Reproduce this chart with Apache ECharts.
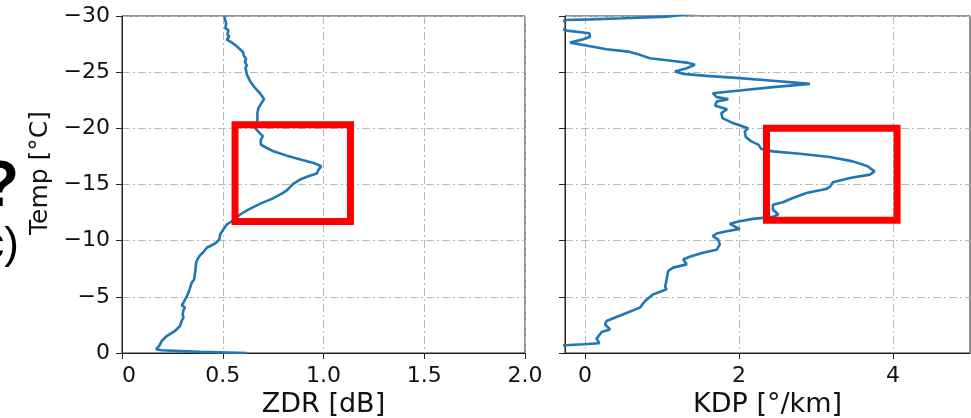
<!DOCTYPE html>
<html>
<head>
<meta charset="utf-8">
<script src="https://cdn.jsdelivr.net/npm/echarts@6.0.0/dist/echarts.min.js"></script>
<style>
  html, body { margin: 0; padding: 0; background: #fff; }
  #chart { width: 971px; height: 418px; }
</style>
</head>
<body>
<div id="chart"></div>
<script>
// temperature levels (y) and ZDR values (x), top of profile first
const zdrTemp = [-30, -29.35, -28.9, -28.76, -28.3, -28.2, -27.9, -27.7, -27.3, -26.8,
  -26.4, -26.2, -25.9, -25.6, -25.4, -24.76, -24.2, -23.6, -23.1, -22.6,
  -22.25, -21.8, -21.36, -20.76, -20.0, -19.6, -19.3, -19.0, -18.55, -18.25,
  -17.95, -17.57, -17.15, -16.86, -16.62, -16.32, -15.97, -15.73, -15.44, -15.08,
  -14.48, -14.19, -13.72, -13.6, -13.3, -12.77, -12.33, -11.73, -11.44, -11.0,
  -10.55, -10.1, -9.75, -9.37, -8.93, -8.69, -8.33, -8.04, -7.3, -6.55,
  -6.26, -5.37, -4.93, -4.48, -4.25, -4.04, -3.83, -3.45, -3.15, -2.85,
  -2.4, -1.96, -1.51, -1.07, -0.63, -0.34, -0.25, -0.1, 0];
const zdrValues = [0.507, 0.517, 0.513, 0.528, 0.523, 0.533, 0.52, 0.54, 0.57, 0.60,
  0.606, 0.616, 0.61, 0.62, 0.613, 0.62, 0.636, 0.66, 0.686, 0.705,
  0.692, 0.677, 0.672, 0.672, 0.662, 0.682, 0.699, 0.689, 0.689, 0.719,
  0.752, 0.818, 0.90, 0.959, 0.989, 0.975, 0.967, 0.925, 0.884, 0.851,
  0.818, 0.793, 0.744, 0.735, 0.686, 0.627, 0.586, 0.545, 0.52, 0.503,
  0.487, 0.483, 0.462, 0.421, 0.401, 0.387, 0.374, 0.368, 0.364, 0.358,
  0.346, 0.33, 0.318, 0.305, 0.296, 0.313, 0.305, 0.301, 0.305, 0.296,
  0.288, 0.263, 0.222, 0.197, 0.185, 0.169, 0.197, 0.387, 0.62];

// temperature levels (y) and KDP values (x)
const kdpTemp = [-30.3, -29.94, -29.8, -29.7, -29.64, -29.2, -28.7, -28.46, -28.16, -27.93,
  -27.63, -27.42, -27.04, -26.83, -26.54, -26.24, -26.0, -25.85, -25.65, -25.35,
  -25.05, -24.85, -24.67, -24.47, -24.23, -23.96, -23.67, -23.37, -23.13, -22.98,
  -22.78, -22.6, -22.39, -22.0, -21.7, -21.36, -20.91, -20.47, -20.0, -19.73,
  -19.23, -18.84, -18.55, -18.16, -17.95, -17.74, -17.45, -17.06, -16.62, -16.17,
  -15.88, -15.58, -15.2, -14.79, -14.6, -14.25, -13.8, -13.42, -13.2, -12.77,
  -12.33, -12.12, -11.94, -11.73, -11.5, -11.05, -10.84, -10.64, -10.4, -10.1,
  -9.66, -9.2, -8.93, -8.57, -8.33, -7.89, -7.6, -7.3, -6.55, -5.9,
  -5.67, -5.22, -4.63, -4.04, -3.45, -2.85, -2.56, -2.1, -1.87, -1.28,
  -0.87, -0.78, -0.69, -0.6];
const kdpValues = [1.5, 1.06, 0.5, 0.065, -0.237, -0.45, -0.237, 0.056, 0.065, -0.022,
  -0.195, -0.022, 0.28, 0.56, 0.713, 0.843, 1.146, 1.32, 1.427, 1.32,
  1.167, 1.275, 1.578, 2.01, 2.44, 2.92, 2.44, 2.01, 1.66, 1.64,
  1.71, 1.86, 1.71, 1.69, 1.846, 1.77, 1.786, 1.92, 2.118, 2.075,
  2.088, 2.16, 2.25, 2.29, 2.44, 2.79, 3.18, 3.48, 3.67, 3.76,
  3.70, 3.44, 3.22, 3.18, 3.13, 2.875, 2.70, 2.57, 2.44, 2.44,
  2.51, 2.44, 2.18, 2.01, 1.88, 2.01, 1.84, 1.71, 1.66, 1.73,
  1.75, 1.71, 1.53, 1.36, 1.275, 1.32, 1.145, 1.08, 1.06, 1.04,
  1.06, 0.886, 0.78, 0.713, 0.497, 0.28, 0.26, 0.324, 0.217, 0.15,
  0.186, -0.02, -0.26, -0.5];

// red highlight boxes: [x0, x1] and [T top, T bottom]
const zdrBoxX = [0.561, 1.134];
const zdrBoxT = [-20.32, -11.7];
const kdpBoxX = [2.357, 4.053];
const kdpBoxT = [-20.0, -11.82];

// tick labels
const tempTicks = [-30, -25, -20, -15, -10, -5, 0];
const zdrTicks = [0, 0.5, 1.0, 1.5, 2.0];
const kdpTicks = [0, 2, 4];

const FONT = "DejaVu Sans";
const BLUE = "#1f77b4";

function pairs(xs, ys) {
  return xs.map((x, i) => [x, ys[i]]);
}
function box(xr, tr) {
  return [[xr[0], tr[0]], [xr[1], tr[0]], [xr[1], tr[1]], [xr[0], tr[1]], [xr[0], tr[0]]];
}
function minus(v) {
  return v < 0 ? "\u2212" + Math.abs(v) : String(v);
}

const gridLine = {
  show: true,
  lineStyle: { color: "#b8b8b8", width: 1, type: [8, 3, 2, 3] }
};
const spine = { show: true, onZero: false, lineStyle: { color: "#222", width: 1 } };
const tick = { show: true, inside: false, length: 6, lineStyle: { color: "#222", width: 1 } };

let chart = echarts.init(document.getElementById("chart"), null, { renderer: "canvas" });

chart.setOption({
  animation: false,
  backgroundColor: "#fff",
  grid: [
    { left: 122, top: 16, width: 403, height: 337, show: true, borderColor: "#222", borderWidth: 1, outerBoundsMode: "none" },
    { left: 565, top: 16, width: 405, height: 337, show: true, borderColor: "#222", borderWidth: 1, outerBoundsMode: "none" }
  ],
  xAxis: [
    {
      type: "value", gridIndex: 0, min: 0, max: 2, interval: 0.5,
      name: "ZDR [dB]", nameLocation: "middle", nameGap: 38,
      nameTextStyle: { fontFamily: FONT, fontSize: 27, color: "#111" },
      axisLine: spine, axisTick: tick, splitLine: gridLine,
      axisLabel: {
        fontFamily: FONT, fontSize: 22, color: "#111", margin: 12,
        alignMinLabel: "left",
        customValues: zdrTicks,
        formatter: v => (v === 0 ? "0" : v.toFixed(1))
      }
    },
    {
      type: "value", gridIndex: 1, min: -0.26, max: 5,
      name: "KDP [°/km]", nameLocation: "middle", nameGap: 38,
      nameTextStyle: { fontFamily: FONT, fontSize: 27, color: "#111" },
      axisLine: spine,
      axisTick: Object.assign({}, tick, { customValues: kdpTicks }),
      splitLine: gridLine,
      axisLabel: {
        fontFamily: FONT, fontSize: 22, color: "#111", margin: 12,
        customValues: kdpTicks,
        showMinLabel: true, showMaxLabel: true
      }
    }
  ],
  yAxis: [
    {
      type: "value", gridIndex: 0, min: -30, max: 0, interval: 5, inverse: true,
      axisLine: spine, axisTick: tick, splitLine: gridLine,
      axisLabel: {
        fontFamily: FONT, fontSize: 22, color: "#111", margin: 12,
        customValues: tempTicks, formatter: minus
      }
    },
    {
      type: "value", gridIndex: 1, min: -30, max: 0, interval: 5, inverse: true,
      axisLine: spine, axisTick: tick, splitLine: gridLine,
      axisLabel: { show: false }
    }
  ],
  series: [
    {
      type: "line", xAxisIndex: 0, yAxisIndex: 0,
      data: pairs(zdrValues, zdrTemp),
      showSymbol: false, clip: true,
      lineStyle: { color: BLUE, width: 2.6 }
    },
    {
      type: "line", xAxisIndex: 1, yAxisIndex: 1,
      data: pairs(kdpValues, kdpTemp),
      showSymbol: false, clip: true,
      lineStyle: { color: BLUE, width: 2.6 }
    },
    {
      // 红框
      type: "line", xAxisIndex: 0, yAxisIndex: 0, z: 5,
      data: box(zdrBoxX, zdrBoxT),
      showSymbol: false, clip: false,
      lineStyle: { color: "#ff0000", width: 7, join: "miter", cap: "square" }
    },
    {
      type: "line", xAxisIndex: 1, yAxisIndex: 1, z: 5,
      data: box(kdpBoxX, kdpBoxT),
      showSymbol: false, clip: false,
      lineStyle: { color: "#ff0000", width: 7, join: "miter", cap: "square" }
    }
  ],
  graphic: [
    {
      // y axis title, sits a bit above the middle in the original
      type: "text", x: 40, y: 173, rotation: Math.PI / 2,
      style: {
        text: "Temp [°C]", fontFamily: FONT, fontSize: 25,
        fill: "#111", align: "center", verticalAlign: "middle"
      }
    },
    // leftovers of the cropped figure at the left edge
    {
      type: "text", x: 19, y: 188,
      style: {
        text: "?", fontFamily: "Liberation Sans", fontWeight: "bold", fontSize: 64,
        fill: "#000", align: "right", verticalAlign: "middle"
      }
    },
    {
      type: "text", x: 19, y: 246,
      style: {
        text: "c)", fontFamily: "Liberation Sans", fontSize: 44,
        fill: "#000", align: "right", verticalAlign: "middle"
      }
    }
  ]
});
</script>
</body>
</html>
